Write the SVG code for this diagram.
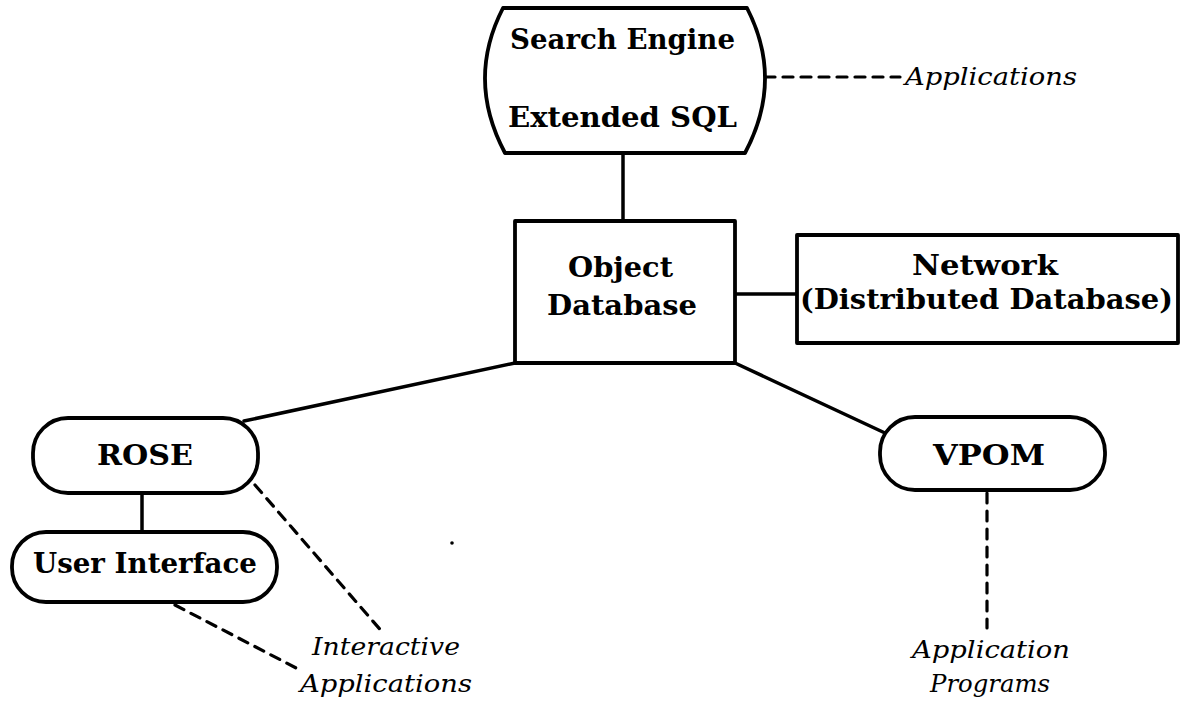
<svg xmlns="http://www.w3.org/2000/svg" width="1185" height="701" viewBox="0 0 1185 701">
  <style>
    .box { fill: #ffffff; stroke: #000000; stroke-width: 3.8; stroke-linejoin: round; }
    .link { fill: none; stroke: #000000; stroke-width: 3.5; stroke-linecap: round; }
    .note { fill: none; stroke: #000000; stroke-width: 3.2; stroke-dasharray: 10 8; stroke-linecap: round; }
    .lbl { font-family: "DejaVu Serif", "Liberation Serif", serif; font-weight: bold; font-size: 27px; fill: #000000; text-anchor: middle; }
    .it { font-family: "DejaVu Serif", "Liberation Serif", serif; font-style: italic; font-size: 25px; fill: #000000; }
  </style>

  <!-- connectors -->
  <g id="connectors">
    <line class="link" x1="623" y1="153" x2="623" y2="221"/>
    <line class="link" x1="735" y1="294" x2="797" y2="294" stroke-width="4"/>
    <line class="link" x1="515" y1="363" x2="244" y2="421" stroke-width="4.2"/>
    <line class="link" x1="735" y1="363" x2="885" y2="433" stroke-width="4.2"/>
    <line class="link" x1="142" y1="493" x2="142" y2="532" stroke-width="3"/>
    <line class="note" x1="765" y1="77" x2="900" y2="77"/>
    <line class="note" x1="255" y1="485" x2="384" y2="634"/>
    <line class="note" x1="175" y1="605" x2="300" y2="670"/>
    <line class="note" x1="987" y1="493" x2="987" y2="628" stroke-width="2.6"/>
  </g>

  <!-- search engine / extended SQL -->
  <g id="search-engine">
    <path class="box" d="M503,8 L747,8 Q784,80 745,153 L505,153 Q466,80 503,8 Z"/>
    <text class="lbl" x="622.5" y="49" textLength="225" lengthAdjust="spacingAndGlyphs">Search Engine</text>
    <text class="lbl" x="622.5" y="127" textLength="229" lengthAdjust="spacingAndGlyphs">Extended SQL</text>
  </g>

  <!-- object database -->
  <g id="object-database">
    <rect class="box" x="515" y="221" width="220" height="142"/>
    <text class="lbl" x="620.5" y="277" textLength="105" lengthAdjust="spacingAndGlyphs">Object</text>
    <text class="lbl" x="622" y="315" textLength="150" lengthAdjust="spacingAndGlyphs">Database</text>
  </g>

  <!-- network -->
  <g id="network">
    <rect class="box" x="797" y="235" width="381" height="108"/>
    <text class="lbl" x="985" y="275" textLength="146" lengthAdjust="spacingAndGlyphs">Network</text>
    <text class="lbl" x="986.5" y="309" textLength="373" lengthAdjust="spacingAndGlyphs">(Distributed Database)</text>
  </g>

  <!-- ROSE -->
  <g id="rose">
    <rect class="box" x="33" y="418" width="225" height="75" rx="35" ry="35"/>
    <text class="lbl" x="145" y="465" textLength="96" lengthAdjust="spacingAndGlyphs">ROSE</text>
  </g>

  <!-- user interface -->
  <g id="user-interface">
    <rect class="box" x="12" y="532" width="265" height="70" rx="34" ry="34"/>
    <text class="lbl" x="145" y="573" textLength="224" lengthAdjust="spacingAndGlyphs">User Interface</text>
  </g>

  <!-- VPOM -->
  <g id="vpom">
    <rect class="box" x="880" y="417" width="225" height="73" rx="35" ry="35"/>
    <text class="lbl" x="989" y="465" textLength="112" lengthAdjust="spacingAndGlyphs">VPOM</text>
  </g>

  <!-- annotation labels -->
  <g id="label-applications">
    <text class="it" x="905" y="85" textLength="172" lengthAdjust="spacingAndGlyphs">Applications</text>
  </g>
  <g id="label-interactive">
    <text class="it" x="312" y="655" textLength="148" lengthAdjust="spacingAndGlyphs">Interactive</text>
    <text class="it" x="300" y="692" textLength="172" lengthAdjust="spacingAndGlyphs">Applications</text>
  </g>
  <g id="label-programs">
    <text class="it" x="912" y="658" textLength="158" lengthAdjust="spacingAndGlyphs">Application</text>
    <text class="it" x="930" y="692" textLength="120" lengthAdjust="spacingAndGlyphs">Programs</text>
  </g>

  <circle cx="452" cy="543" r="1.8" fill="#000000"/>
</svg>
